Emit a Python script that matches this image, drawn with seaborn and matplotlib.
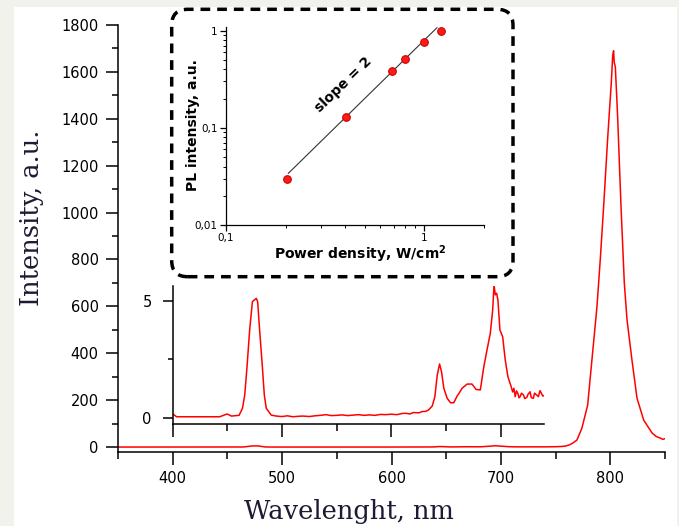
import numpy as np
import pandas as pd
import matplotlib
matplotlib.use("Agg")
import matplotlib.pyplot as plt
from matplotlib.patches import FancyBboxPatch, Rectangle
from matplotlib.ticker import MultipleLocator, LogLocator, FuncFormatter, NullFormatter
import seaborn as sns

# ---------------- data ----------------
# PL spectrum (wavelength in nm, intensity in a.u.)
wavelength = [
    350, 370, 390, 400.6, 403.6, 428, 443, 449.8, 453.7, 460.7, 463.8, 465.9,
    468, 470.4, 472.9, 474.7, 476.5, 477.7, 479.5, 482, 483.8, 485.6, 490.2,
    494.7, 500, 505, 510, 515, 519, 525, 530, 535, 540.3, 545, 550, 555, 560,
    564.6, 570, 575, 580, 585, 590, 594.9, 600, 605, 610, 613, 617, 620, 625.3,
    628, 631.3, 634, 637.4, 639.8, 642, 644.1, 645.9, 648, 651.1, 654.1, 657.1,
    660.2, 662, 664.7, 667, 669.3, 673.8, 677.5, 681.4, 684.5, 687.5, 690.5,
    692.7, 693.9, 695.1, 696.3, 697.5, 699.3, 701.8, 704.2, 706.6, 709.6, 711,
    712.1, 713.3, 714.5, 715.7, 716.8, 717.8, 719, 720.9, 722, 723.9, 725,
    726.9, 728, 729.9, 731, 733, 734.5, 736, 738.5, 740, 745, 750, 755, 758.8,
    763, 766, 769.5, 774, 779.3, 783.2, 787.8, 790.8, 793.9, 797.5, 800.9,
    802.2, 803, 803.6, 804.6, 806.7, 809.8, 812.8, 815.3, 819.8, 824.4, 830.5,
    838.2, 842, 845.8, 848, 850,
]
intensity = [
    0.08, 0.06, 0.10, 0.14, 0.04, 0.04, 0.04, 0.16, 0.07, 0.10, 0.40, 0.97,
    2.19, 3.76, 4.97, 5.04, 5.11, 4.97, 3.76, 2.19, 0.97, 0.40, 0.11,
    0.07, 0.05, 0.08, 0.04, 0.06, 0.07, 0.05, 0.08, 0.10, 0.13, 0.09, 0.10, 0.12, 0.09,
    0.11, 0.13, 0.10, 0.12, 0.10, 0.14, 0.13, 0.15, 0.13, 0.18, 0.19, 0.16, 0.22, 0.21,
    0.26, 0.27, 0.33, 0.50, 0.90, 1.83, 2.30, 1.97, 1.26, 0.83, 0.64, 0.64,
    0.93, 1.05, 1.26, 1.35, 1.44, 1.44, 1.21, 1.19, 2.16, 2.90, 3.61,
    4.61, 5.69, 5.26, 5.33, 5.04, 3.76, 3.47, 2.47, 1.76, 1.33, 1.10,
    1.26, 0.90, 1.15, 1.04, 0.85, 0.90, 1.05, 0.97, 0.82, 0.87, 1.00,
    1.11, 0.86, 0.83, 1.05, 0.97, 0.90, 1.16, 0.93, 0.95, 1.2, 1.6, 2.5, 4.0,
    10, 18, 30, 80, 179, 371, 598, 798, 1025, 1310, 1553,
    1670, 1690, 1640, 1622, 1409, 1025, 700, 542, 371, 209, 115,
    60, 45, 38, 33, 36,
]

# PL intensity versus excitation power density
power_density = [0.202, 0.401, 0.690, 0.799, 1.00, 1.22]
pl_intensity = [0.030, 0.130, 0.387, 0.510, 0.759, 1.00]

# Power-law fit  I = A * P^slope
fit_slope = 2
fit_prefactor = 0.80
fit_range = [0.206, 1.16]

main_xticks = [400, 500, 600, 700, 800]
main_yticks = [0, 200, 400, 600, 800, 1000, 1200, 1400, 1600, 1800]

spec = pd.DataFrame({"wl": wavelength, "I": intensity})
pl = pd.DataFrame({"P": power_density, "I": pl_intensity})
p_fit = np.geomspace(fit_range[0], fit_range[1], 50)
fit = pd.DataFrame({"P": p_fit, "I": fit_prefactor * p_fit ** fit_slope})

# ---------------- style ----------------
sns.set_style("ticks")
plt.rcParams["font.family"] = ["DejaVu Sans"]
plt.rcParams["axes.linewidth"] = 1.1
plt.rcParams["axes.edgecolor"] = "black"
plt.rcParams["axes.labelcolor"] = "black"
plt.rcParams["text.color"] = "black"
plt.rcParams["xtick.color"] = "black"
plt.rcParams["ytick.color"] = "black"

W, H = 679, 526
fig = plt.figure(figsize=(W / 100, H / 100), dpi=100)
fig.patch.set_facecolor("#f2f2ed")
fig.patches.append(Rectangle((14 / W, 0), (677 - 14) / W, (H - 7) / H,
                             transform=fig.transFigure, facecolor="white",
                             edgecolor="none", zorder=-10))


def px_rect(left, top, right, bottom):
    return [left / W, (H - bottom) / H, (right - left) / W, (bottom - top) / H]


label_color = "#1b1b33"
serif = ["DejaVu Serif"]

# ---------------- main spectrum ----------------
ax = fig.add_axes(px_rect(118, 25, 665, 452))
ax.set_facecolor("none")
sns.lineplot(data=spec, x="wl", y="I", ax=ax, color="#ff0000", lw=1.1,
             estimator=None)
ax.set_xlim(350, 850)
ax.set_ylim(-21, 1800)
ax.set_xticks(main_xticks)
ax.set_yticks(main_yticks)
ax.xaxis.set_minor_locator(MultipleLocator(50))
ax.yaxis.set_minor_locator(MultipleLocator(100))
ax.tick_params(which="major", direction="out", length=9, width=1.1,
               labelsize=10.5, pad=5)
ax.tick_params(which="minor", direction="out", length=5, width=1.1)
ax.tick_params(axis="y", which="minor", length=4)
sns.despine(ax=ax)
ax.set_xlabel("Wavelenght, nm", family=serif, fontsize=18.5, color=label_color)
ax.set_ylabel("Intensity, a.u.", family=serif, fontsize=18.5, color=label_color)
ax.xaxis.label.set(va="center")
ax.yaxis.label.set(va="center")
ax.xaxis.set_label_coords(0.4227, -0.1405)
ax.yaxis.set_label_coords(-0.159, 0.549)

# ---------------- zoomed spectrum ----------------
axz = fig.add_axes(px_rect(172.7, 286, 544.4, 424))
axz.set_facecolor("none")
sns.lineplot(data=spec, x="wl", y="I", ax=axz, color="#ff0000", lw=1.1,
             estimator=None)
axz.set_xlim(400, 740)
axz.set_ylim(-0.27, 5.64)
axz.set_xticks([400, 500, 600, 700])
axz.xaxis.set_minor_locator(MultipleLocator(50))
axz.set_yticks([0, 5])
axz.yaxis.set_minor_locator(MultipleLocator(2.5))
axz.tick_params(axis="x", which="major", length=9, width=1.1, labelbottom=False)
axz.tick_params(axis="x", which="minor", length=5, width=1.1)
axz.tick_params(axis="y", which="major", length=7, width=1.1, labelsize=10.5, pad=8)
axz.tick_params(axis="y", which="minor", length=3.5, width=1.1)
axz.set_xlabel("")
axz.set_ylabel("")
sns.despine(ax=axz)

# ---------------- power dependence ----------------
box = FancyBboxPatch((171.7 / 100, (H - 276.7) / 100),
                     (513 - 171.7) / 100, (276.7 - 9.3) / 100,
                     boxstyle="round,pad=0,rounding_size=0.16",
                     transform=fig.dpi_scale_trans, facecolor="white",
                     edgecolor="black", lw=2.5, linestyle=(0, (2.8, 2.0)),
                     zorder=2)
fig.patches.append(box)

axl = fig.add_axes(px_rect(226, 27.3, 484, 225))
axl.set_zorder(3)
axl.set_facecolor("none")
axl.set_xscale("log")
axl.set_yscale("log")
sns.lineplot(data=fit, x="P", y="I", ax=axl, color="#333333", lw=0.8,
             estimator=None)
sns.scatterplot(data=pl, x="P", y="I", ax=axl, color="#ff1a1a", s=30,
                edgecolor="#cc0000", linewidth=0.8, zorder=3)
axl.set_xlim(0.1, 2.0)
axl.set_ylim(0.01, 1.084)


def comma_fmt(v, _):
    s = f"{v:g}"
    return s.replace(".", ",")


axl.xaxis.set_major_locator(LogLocator(base=10, numticks=10))
axl.yaxis.set_major_locator(LogLocator(base=10, numticks=10))
axl.xaxis.set_minor_locator(LogLocator(base=10, subs=np.arange(2, 10), numticks=10))
axl.yaxis.set_minor_locator(LogLocator(base=10, subs=np.arange(2, 10), numticks=10))
axl.xaxis.set_major_formatter(FuncFormatter(comma_fmt))
axl.yaxis.set_major_formatter(FuncFormatter(comma_fmt))
axl.xaxis.set_minor_formatter(NullFormatter())
axl.yaxis.set_minor_formatter(NullFormatter())
axl.tick_params(which="major", length=4.5, width=0.9, labelsize=7.5, pad=1.5)
axl.tick_params(which="minor", length=2.5, width=0.7)
for sp in axl.spines.values():
    sp.set_linewidth(0.9)
sns.despine(ax=axl)
axl.set_xlabel("Power density, W/cm$^\\mathbf{2}$", fontsize=10, fontweight="bold")
axl.set_ylabel("PL intensity, a.u.", fontsize=10, fontweight="bold")
axl.xaxis.label.set(va="center")
axl.yaxis.label.set(va="center")
axl.xaxis.set_label_coords(0.522, -0.147)
axl.yaxis.set_label_coords(-0.128, 0.506)
axl.text(0.455, 0.708, "slope = 2", transform=axl.transAxes, rotation=44,
         ha="center", va="center", fontsize=10, fontweight="bold",
         rotation_mode="anchor")

fig.savefig("out.png", dpi=100, facecolor=fig.get_facecolor())
